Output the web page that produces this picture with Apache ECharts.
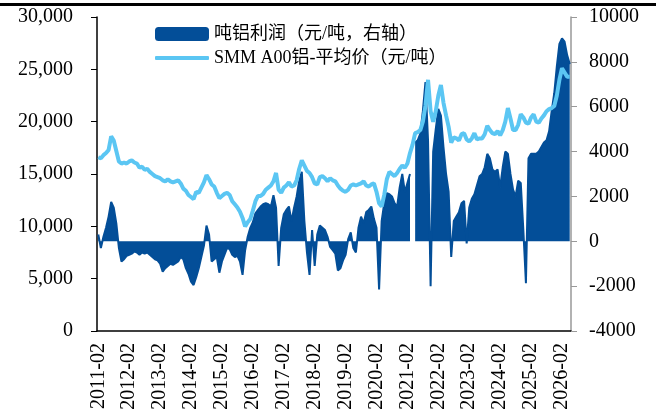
<!DOCTYPE html>
<html>
<head>
<meta charset="utf-8">
<script src="https://cdn.jsdelivr.net/npm/echarts@6.0.0/dist/echarts.min.js"></script>
<style>
  html, body { margin: 0; padding: 0; background: #fff; }
  #chart { width: 659px; height: 420px; }
</style>
</head>
<body>
<div id="chart"></div>
<script>
// monthly, 2011-02 .. 2026-05
const startYear = 2011
const startMonth = 2

// SMM A00 aluminium average price (yuan/t), left axis
const price = [
  16600, 16500, 16800, 17000, 17300, 18600, 18200, 17200, 16200, 16000, 16100, // 2011 Feb-Dec
  16000, 16200, 16300, 16100, 16000, 15600, 15700, 15400, 15500, 15200, 15000, 14800, // 2012
  14700, 14600, 14400, 14300, 14500, 14300, 14200, 14300, 14400, 14100, 13600, 13400, // 2013
  13000, 12800, 12600, 13300, 13200, 13700, 14200, 14900, 14500, 14000, 13800, 13200, // 2014
  12700, 12900, 13100, 13200, 13000, 12400, 12100, 11800, 11400, 10800, 10000, 10400, // 2015
  10700, 11500, 12400, 12900, 12900, 13100, 13500, 13700, 13900, 14300, 15100, 13500, // 2016
  13200, 13700, 13900, 14200, 13800, 13900, 14400, 15500, 16300, 15800, 15300, 15100, // 2017
  14700, 14100, 14000, 14700, 14800, 14600, 14300, 14600, 14400, 14300, 13900, 13600, // 2018
  13400, 13300, 13500, 13900, 14000, 13900, 14000, 14100, 14300, 13900, 13800, 14000, // 2019
  14100, 13300, 12200, 11900, 13000, 14500, 15200, 15000, 14800, 15100, 15500, 15800, // 2020
  15600, 16000, 17000, 17800, 18900, 19000, 19200, 20000, 21500, 24000, 21000, 20000, // 2021
  21000, 22500, 23500, 21800, 20600, 19500, 18000, 18500, 18400, 18200, 18800, 18900, // 2022
  18300, 18100, 18400, 18900, 18300, 18400, 18400, 18800, 19600, 19200, 18900, 18800, // 2023
  19100, 18700, 19200, 20000, 21300, 20300, 19200, 19200, 19700, 20700, 20400, 19900, // 2024
  19800, 20400, 20700, 20000, 19900, 20300, 20600, 21000, 21200, 21300, 21500, 22500, // 2025
  24000, 25100, 24700, 24300, 24300 // 2026 Jan-May
]

// profit per tonne of aluminium (yuan/t), right axis
const profit = [
  300, -300, 200, 600, 1100, 1750, 1500, 800, -300, -900, -800, // 2011 Feb-Dec
  -650, -600, -550, -450, -500, -600, -500, -550, -500, -600, -700, -800, // 2012
  -850, -1000, -1350, -1200, -1100, -1000, -1050, -980, -900, -700, -800, -1200, // 2013
  -1450, -1800, -1950, -1600, -1200, -700, -200, 700, 300, -900, -800, -700, // 2014
  -1400, -900, -600, -300, -350, -600, -700, -650, -900, -1500, -400, 200, // 2015
  600, 850, 1250, 1400, 1550, 1650, 1700, 1650, 1550, 2050, 1500, -1100, // 2016
  600, 1200, 1400, 1550, 900, 1500, 2000, 2700, 3100, 900, -500, -1500, // 2017
  500, -1100, 300, 700, 600, 500, 200, -250, -400, -550, -1300, -1200, // 2018
  -850, -600, 100, 400, -300, -500, 600, 1100, 800, 1300, 1400, 1550, // 2019
  1000, 600, -2150, 900, 1700, 2150, 2100, 2000, 1700, 1550, 2400, 3000, // 2020
  2200, 2600, 3000, null, 4400, 4500, 4800, 5800, 7100, 4500, -2000, 4000, // 2021
  5000, 5900, 5600, 4200, 3000, 2200, -700, 900, 1100, 1300, 1700, 1800, // 2022
  -100, 1500, 1900, 2100, 2500, 2900, 3000, 3300, 3900, 3700, 3200, 3100, // 2023
  3200, 2400, 3300, 4000, 3900, 3000, 2300, 2000, 2700, 2600, 500, -1870, // 2024
  3700, 3900, 3900, 3900, 4000, 4200, 4400, 4500, 4900, 5800, 6600, 7800, // 2025
  8800, 9050, 8900, 8300, 7900 // 2026 Jan-May
]

const months = []
for (let i = 0; i < price.length; i++) {
  const m = startMonth - 1 + i
  const y = startYear + Math.floor(m / 12)
  const mm = (m % 12) + 1
  months.push(y + '-' + (mm < 10 ? '0' + mm : mm))
}

const font = "'Liberation Serif', 'Times New Roman', 'Noto Sans CJK SC', serif"
const barColor = '#034e98'
const lineColor = '#5bc6f3'

const chart = echarts.init(document.getElementById('chart'))
const option = {
  animation: false,
  textStyle: { fontFamily: font },
  graphic: [{
    type: 'rect',
    left: 0,
    top: 3,
    shape: { width: 656, height: 3 },
    style: { fill: '#000' }
  }],
  grid: { left: 97, right: 88, top: 17, bottom: 89 },
  legend: [
    {
      left: 150,
      top: 20,
      itemWidth: 54,
      itemHeight: 14,
      textStyle: { fontFamily: font, fontSize: 18, color: '#000' },
      data: [{ name: '吨铝利润（元/吨，右轴）', icon: 'roundRect' }]
    },
    {
      left: 150,
      top: 44,
      itemWidth: 54,
      itemHeight: 4,
      textStyle: { fontFamily: font, fontSize: 18, color: '#000' },
      data: [{ name: 'SMM A00铝-平均价（元/吨）', icon: 'roundRect' }]
    }
  ],
  xAxis: {
    type: 'category',
    data: months,
    boundaryGap: true,
    axisLine: { onZero: false, lineStyle: { color: '#000', width: 1.5 } },
    axisTick: { interval: 11, length: 6, alignWithLabel: true, lineStyle: { color: '#000' } },
    axisLabel: { interval: 11, rotate: 90, margin: 12, fontSize: 20, color: '#000', fontFamily: font }
  },
  yAxis: [
    {
      type: 'value',
      min: 0,
      max: 30000,
      interval: 5000,
      splitLine: { show: false },
      axisLine: { show: true, lineStyle: { color: '#000', width: 1.5 } },
      axisTick: { show: true, length: 6, lineStyle: { color: '#000' } },
      axisLabel: {
        margin: 24, fontSize: 20, color: '#000', fontFamily: font,
        formatter: v => v.toString().replace(/\B(?=(\d{3})+(?!\d))/g, ',')
      }
    },
    {
      type: 'value',
      min: -4000,
      max: 10000,
      interval: 2000,
      position: 'right',
      splitLine: { show: false },
      axisLine: { show: true, onZero: false, lineStyle: { color: '#999', width: 1.5 } },
      axisTick: { show: true, length: 6, lineStyle: { color: '#999' } },
      axisLabel: { margin: 18, fontSize: 20, color: '#000', fontFamily: font, formatter: v => String(v) }
    }
  ],
  series: [
    {
      name: '吨铝利润（元/吨，右轴）',
      type: 'line',
      yAxisIndex: 1,
      data: profit,
      symbol: 'none',
      connectNulls: false,
      lineStyle: { color: barColor, width: 2 },
      itemStyle: { color: barColor },
      areaStyle: { color: barColor, opacity: 1 }
    },
    {
      name: 'SMM A00铝-平均价（元/吨）',
      type: 'line',
      yAxisIndex: 0,
      data: price,
      symbol: 'none',
      z: 5,
      lineStyle: { color: lineColor, width: 4 },
      itemStyle: { color: lineColor }
    }
  ]
}
chart.setOption(option)
</script>
</body>
</html>
